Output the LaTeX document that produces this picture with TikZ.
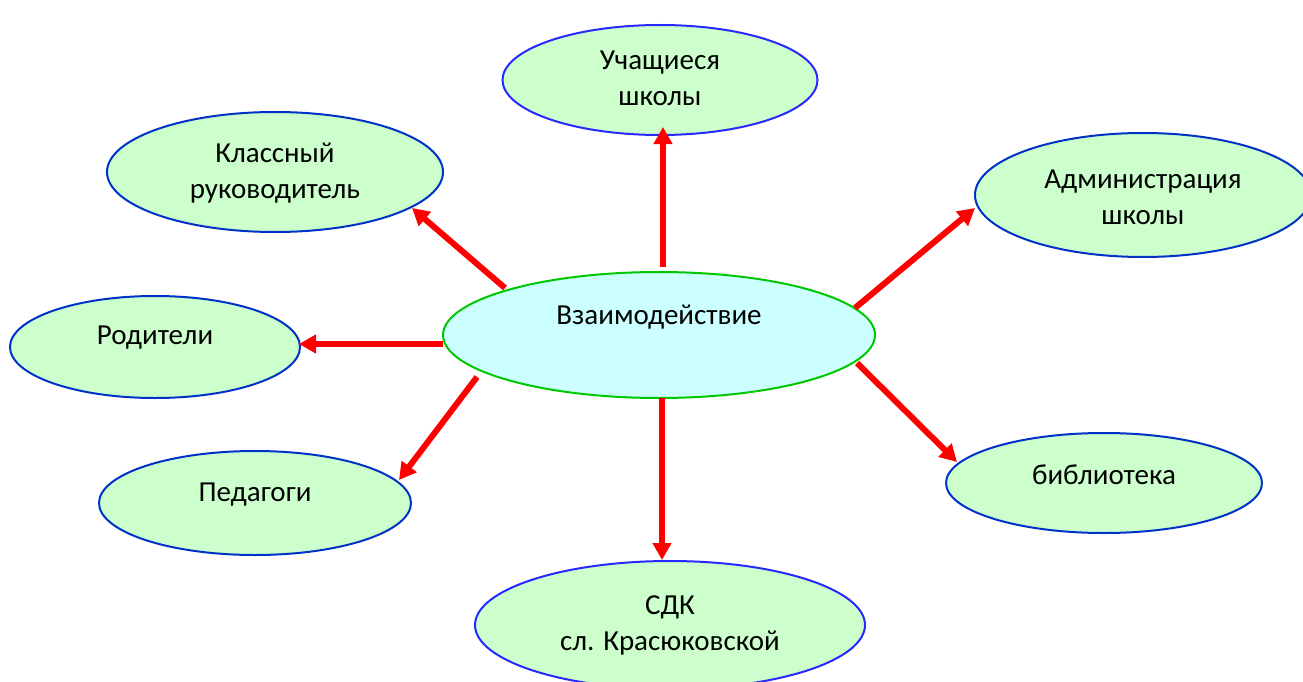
\documentclass[tikz,border=0pt]{standalone}
\usepackage{fontspec}
\setmainfont{Carlito}
\usetikzlibrary{shapes.geometric,arrows.meta}
\definecolor{fillg}{RGB}{204,255,204}
\definecolor{fillc}{RGB}{204,255,255}
\definecolor{brdc}{RGB}{0,200,0}
\definecolor{blueA}{RGB}{40,40,255}
\definecolor{blueB}{RGB}{0,50,200}
\definecolor{arrred}{RGB}{255,0,0}
\tikzset{
  oval/.style={ellipse, draw=blueB, fill=fillg, line width=2pt, inner sep=0pt, outer sep=0pt},
  coval/.style={ellipse, draw=brdc, fill=fillc, line width=2pt, inner sep=0pt, outer sep=0pt},
  lbl/.style={align=center, font=\fontsize{29}{36}\selectfont, text=black, inner sep=0pt},
  arr/.style={draw=arrred, line width=6pt, -{Triangle[width=18pt,length=17pt]}, fill=arrred}
}
\begin{document}
\begin{tikzpicture}[x=1pt,y=-1pt]
\useasboundingbox (0,0) rectangle (1303,682);
% ellipses
\node[coval, minimum width=432pt, minimum height=126pt] (c) at (659,335) {};
\node[oval, draw=blueA, minimum width=315pt, minimum height=110pt] (u) at (660,80) {};
\node[oval, minimum width=336pt, minimum height=120pt] (k) at (275,172) {};
\node[oval, minimum width=336pt, minimum height=124pt] (a) at (1143,195) {};
\node[oval, minimum width=290pt, minimum height=102pt] (r) at (155,347) {};
\node[oval, minimum width=312pt, minimum height=104pt] (p) at (255,503) {};
\node[oval, minimum width=316pt, minimum height=100pt] (b) at (1104,483) {};
\node[oval, draw=blueA, minimum width=390pt, minimum height=128pt] (s) at (670,625) {};
% texts
\node[lbl] (ct) at ([yshift=18pt]c.center) {Взаимодействие};
\node[lbl] (ut) at ([yshift=2pt]u.center) {Учащиеся\\школы};
\node[lbl] (kt) at ([yshift=-1pt]k.center) {Классный\\руководитель};
\node[lbl] (at) at ([yshift=-2pt]a.center) {Администрация\\школы};
\node[lbl] (rt) at ([yshift=9pt]r.center) {Родители};
\node[lbl] (pt) at ([yshift=8pt]p.center) {Педагоги};
\node[lbl] (bt) at ([yshift=8pt]b.center) {библиотека};
\node[lbl] (st) at (s.center) {СДК\\сл. Красюковской};
% arrows
\draw[arr] ([shift={(4,-68)}]c.center) -- ([shift={(3,47)}]u.center);
\draw[arr] ([shift={(-154,-47)}]c.center) -- ([shift={(137,36)}]k.center);
\draw[arr] ([shift={(-216,9)}]c.center) -- ([shift={(144,-3)}]r.center);
\draw[arr] ([shift={(-182,42)}]c.center) -- ([shift={(144,-23)}]p.center);
\draw[arr] ([shift={(3,63)}]c.center) -- ([shift={(-8,-65)}]s.center);
\draw[arr] ([shift={(196,-27)}]c.center) -- ([shift={(-168,13)}]a.center);
\draw[arr] ([shift={(198,28)}]c.center) -- ([shift={(-147,-21)}]b.center);
\end{tikzpicture}
\end{document}
